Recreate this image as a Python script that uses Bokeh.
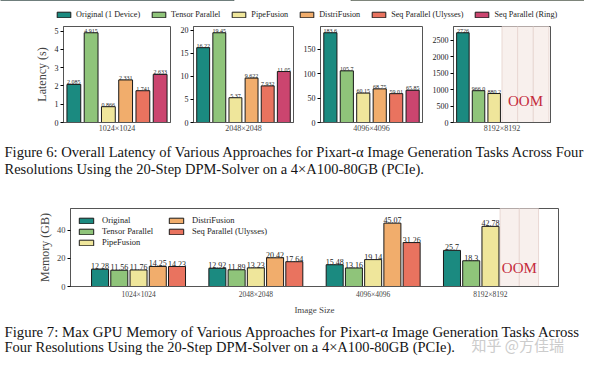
from bokeh.plotting import figure
from bokeh.layouts import column, row
from bokeh.models import (ColumnDataSource, Range1d, FixedTicker, Legend, LegendItem, Label)
from bokeh.core.properties import value
from bokeh.embed import file_html
from bokeh.resources import INLINE

FONT = "Liberation Serif"

# ---------------- data ----------------
methods = ["Original (1 Device)", "Tensor Parallel", "PipeFusion", "DistriFusion",
           "Seq Parallel (Ulysses)", "Seq Parallel (Ring)"]
colors = ["#1b8a80", "#8fc47a", "#efe69b", "#f1ad6c", "#e9735f", "#cb456f"]
resolutions = ["1024×1024", "2048×2048", "4096×4096", "8192×8192"]

lat_1024 = [2.085, 4.915, 0.866, 2.331, 1.741, 2.633]
lat_2048 = [16.22, 19.45, 5.37, 9.622, 7.932, 11.05]
lat_4096 = [183.6, 105.7, 60.15, 68.75, 59.01, 65.85]
lat_8192 = [2726, 966.0, 880.2]          # remaining methods: OOM
lat_ticks = [[0, 1, 2, 3, 4, 5], [0, 5, 10, 15, 20], [0, 50, 100, 150],
             [0, 500, 1000, 1500, 2000, 2500]]

mem_methods = ["Original", "Tensor Parallel", "PipeFusion", "DistriFusion",
               "Seq Parallel (Ulysses)"]
mem_original = [12.28, 12.92, 15.48, 25.7]
mem_tensor = [11.56, 11.89, 13.16, 18.3]
mem_pipefusion = [11.76, 13.23, 19.14, 42.78]
mem_distrifusion = [14.25, 20.42, 45.07]   # 8192: OOM
mem_ulysses = [14.23, 17.64, 31.26]        # 8192: OOM
mem_ticks = [0, 20, 40]

caption6 = ["Figure 6: Overall Latency of Various Approaches for Pixart-α Image Generation Tasks Across Four",
            "Resolutions Using the 20-Step DPM-Solver on a 4×A100-80GB (PCIe)."]
caption7 = ["Figure 7: Max GPU Memory of Various Approaches for Pixart-α Image Generation Tasks Across",
            "Four Resolutions Using the 20-Step DPM-Solver on a 4×A100-80GB (PCIe)."]
watermark = "知乎 @方佳瑞"

OOM_FILL = "#f8f0ed"
OOM_LINE = "#e9d8d3"
OOM_COLOR = "#c42a3c"
FRAME = "#555555"
EDGE = "#1a1a1a"


def bare(width, height):
    f = figure(width=width, height=height, output_backend="svg", toolbar_location=None,
               min_border_left=0, min_border_right=0, min_border_top=0, min_border_bottom=0,
               outline_line_color=None, x_axis_type=None, y_axis_type=None,
               frame_align=False)
    f.grid.visible = False
    return f


# ---------------- legend strip ----------------
leg_fig = bare(584, 25)
leg_fig.x_range = Range1d(0, 1)
leg_fig.y_range = Range1d(-2, -1)
leg_items = []
for i, m_name in enumerate(methods):
    src = ColumnDataSource(dict(x=[i], top=[lat_1024[i]]))
    r = leg_fig.vbar(x="x", top="top", width=0.8, source=src, fill_color=colors[i],
                     line_color=EDGE, line_width=1)
    leg_items.append(LegendItem(label=m_name, renderers=[r]))
top_leg = Legend(items=leg_items, orientation="horizontal", location=(55, 6),
                 label_text_font=FONT, label_text_font_size="8.2px", label_text_color="#222",
                 glyph_width=17, glyph_height=7, label_height=10, label_standoff=4,
                 spacing=10, padding=0, margin=0, border_line_alpha=0,
                 background_fill_alpha=0)
leg_fig.add_layout(top_leg, "center")


# ---------------- latency panels ----------------
def panel(vals, res, ticks, left, frame_w, right, ylabel=None):
    ymax = max(vals) * 1.07
    p = figure(width=left + frame_w + right, height=112, output_backend="svg",
               toolbar_location=None, x_range=Range1d(-0.6, 5.6), y_range=Range1d(0, ymax),
               min_border_left=left, min_border_right=right, min_border_top=1,
               min_border_bottom=15, frame_align=False)
    p.grid.visible = False
    p.outline_line_color = FRAME
    p.outline_line_width = 1
    n = len(vals)
    missing = list(range(n, len(methods)))
    if missing:
        osrc = ColumnDataSource(dict(l=[i - 0.5 for i in missing], r=[i + 0.5 for i in missing]))
        p.quad(left="l", right="r", bottom=0, top=ymax, source=osrc, fill_color=OOM_FILL,
               line_color=OOM_LINE, line_width=1)
        p.add_layout(Label(x=sum(missing) / len(missing), y=ymax * 0.22, text="OOM",
                           text_align="center", text_baseline="middle", text_font=FONT,
                           text_font_size="15px", text_color=OOM_COLOR))
    src = ColumnDataSource(dict(x=list(range(n)), top=vals, color=colors[:n],
                                label=[str(v) for v in vals]))
    p.vbar(x="x", top="top", width=0.8, source=src, fill_color="color",
           line_color=EDGE, line_width=1)
    p.text(x="x", y="top", text="label", source=src, text_align="center",
           text_baseline="bottom", text_font=value(FONT), text_font_size="6px",
           text_color="#222")
    ya = p.yaxis[0]
    ya.ticker = FixedTicker(ticks=ticks)
    ya.major_label_text_font = FONT
    ya.major_label_text_font_size = "8px"
    ya.major_label_text_color = "#222"
    ya.major_tick_out = 3
    ya.major_tick_in = 0
    ya.minor_tick_line_color = None
    ya.major_label_standoff = 2
    ya.axis_line_color = FRAME
    if ylabel:
        ya.axis_label = ylabel
        ya.axis_label_text_font = FONT
        ya.axis_label_text_font_size = "12px"
        ya.axis_label_text_font_style = "normal"
        ya.axis_label_standoff = 3
    xa = p.xaxis[0]
    xa.ticker = FixedTicker(ticks=[])
    xa.major_tick_out = 0
    xa.minor_tick_line_color = None
    xa.major_label_standoff = 0
    xa.axis_line_color = FRAME
    xa.axis_label = res
    xa.axis_label_text_font = FONT
    xa.axis_label_text_font_size = "8px"
    xa.axis_label_text_font_style = "normal"
    xa.axis_label_standoff = 1
    return p


p1 = panel(lat_1024, resolutions[0], lat_ticks[0], 63, 107, 7, ylabel="Latency (s)")
p2 = panel(lat_2048, resolutions[1], lat_ticks[1], 14, 102, 7)
p3 = panel(lat_4096, resolutions[2], lat_ticks[2], 17, 105, 7)
p4 = panel(lat_8192, resolutions[3], lat_ticks[3], 17, 104, 34)


# ---------------- captions ----------------
def caption(lines, height, tops, sizes, extra=None):
    c = bare(584, height)
    c.x_range = Range1d(0, 1)
    c.y_range = Range1d(0, 1)
    for line, t, s in zip(lines, tops, sizes):
        c.add_layout(Label(x=4, y=height - t, x_units="screen", y_units="screen", text=line,
                           text_font=FONT, text_font_size=s, text_color="#151515",
                           text_baseline="middle", text_align="left"))
    if extra:
        c.add_layout(extra)
    return c


cap6 = caption(caption6, 46, [14.5, 31], ["14.6px", "14.5px"])
wm = Label(x=471, y=39 - 27, x_units="screen", y_units="screen", text=watermark,
           text_font="Noto Sans CJK SC", text_font_size="15px", text_color="#cccccc",
           text_baseline="middle", text_align="left")
cap7 = caption(caption7, 39, [14, 29.5], ["14.8px", "14.5px"], extra=wm)


# ---------------- memory chart ----------------
mem_series = [mem_original, mem_tensor, mem_pipefusion, mem_distrifusion, mem_ulysses]
slot = 0.164
mymax = 55.5
m = figure(width=584, height=134, output_backend="svg", toolbar_location=None,
           x_range=Range1d(-0.58, 3.58), y_range=Range1d(0, mymax),
           min_border_left=70, min_border_right=26, min_border_top=25, min_border_bottom=27,
           frame_align=False)
m.grid.visible = False
m.outline_line_color = FRAME
m.outline_line_width = 1

# OOM shading for methods missing at the largest resolution
oom_x = [len(resolutions) - 1 + (k - 2) * slot for k, s in enumerate(mem_series)
         if len(s) < len(resolutions)]
osrc = ColumnDataSource(dict(l=[x - slot / 2 for x in oom_x], r=[x + slot / 2 for x in oom_x]))
m.quad(left="l", right="r", bottom=0, top=mymax, source=osrc, fill_color=OOM_FILL,
       line_color=OOM_LINE, line_width=1)
m.add_layout(Label(x=sum(oom_x) / len(oom_x), y=mymax * 0.235, text="OOM", text_align="center",
                   text_baseline="middle", text_font=FONT, text_font_size="15px",
                   text_color=OOM_COLOR))

mem_items = []
for k, s in enumerate(mem_series):
    xs = [g + (k - 2) * slot for g in range(len(s))]
    src = ColumnDataSource(dict(x=xs, top=s, label=[str(v) for v in s]))
    r = m.vbar(x="x", top="top", width=0.145, source=src, fill_color=colors[k],
               line_color=EDGE, line_width=1)
    m.text(x="x", y="top", text="label", source=src, text_align="center",
           text_baseline="bottom", text_font=value(FONT), text_font_size="8px",
           text_color="#222")
    mem_items.append(LegendItem(label=mem_methods[k], renderers=[r]))

mem_leg = Legend(items=mem_items, location="top_left", orientation="vertical", nrows=3,
                 label_text_font=FONT, label_text_font_size="8.5px", label_text_color="#222",
                 glyph_width=18, glyph_height=7, label_height=10, label_standoff=7,
                 label_width=64, spacing=1, padding=0, margin=7, border_line_alpha=0,
                 background_fill_alpha=0)
m.add_layout(mem_leg, "center")

ya = m.yaxis[0]
ya.ticker = FixedTicker(ticks=mem_ticks)
ya.major_label_text_font = FONT
ya.major_label_text_font_size = "8.5px"
ya.major_tick_out = 3
ya.major_tick_in = 0
ya.minor_tick_line_color = None
ya.major_label_standoff = 2
ya.axis_line_color = FRAME
ya.axis_label = "Memory (GB)"
ya.axis_label_text_font = FONT
ya.axis_label_text_font_size = "12px"
ya.axis_label_text_font_style = "normal"
ya.axis_label_standoff = 2

xa = m.xaxis[0]
xa.ticker = FixedTicker(ticks=list(range(len(resolutions))))
xa.major_label_overrides = {i: r for i, r in enumerate(resolutions)}
xa.major_label_text_font = FONT
xa.major_label_text_font_size = "7.5px"
xa.major_tick_out = 0
xa.major_tick_in = 0
xa.minor_tick_line_color = None
xa.major_label_standoff = 3
xa.axis_line_color = FRAME
xa.axis_label = "Image Size"
xa.axis_label_text_font = FONT
xa.axis_label_text_font_size = "9px"
xa.axis_label_text_font_style = "normal"
xa.axis_label_standoff = 3

p = column(leg_fig, row(p1, p2, p3, p4, spacing=0), cap6, m, cap7, spacing=0)

open("out.html", "w").write(file_html(p, INLINE))
